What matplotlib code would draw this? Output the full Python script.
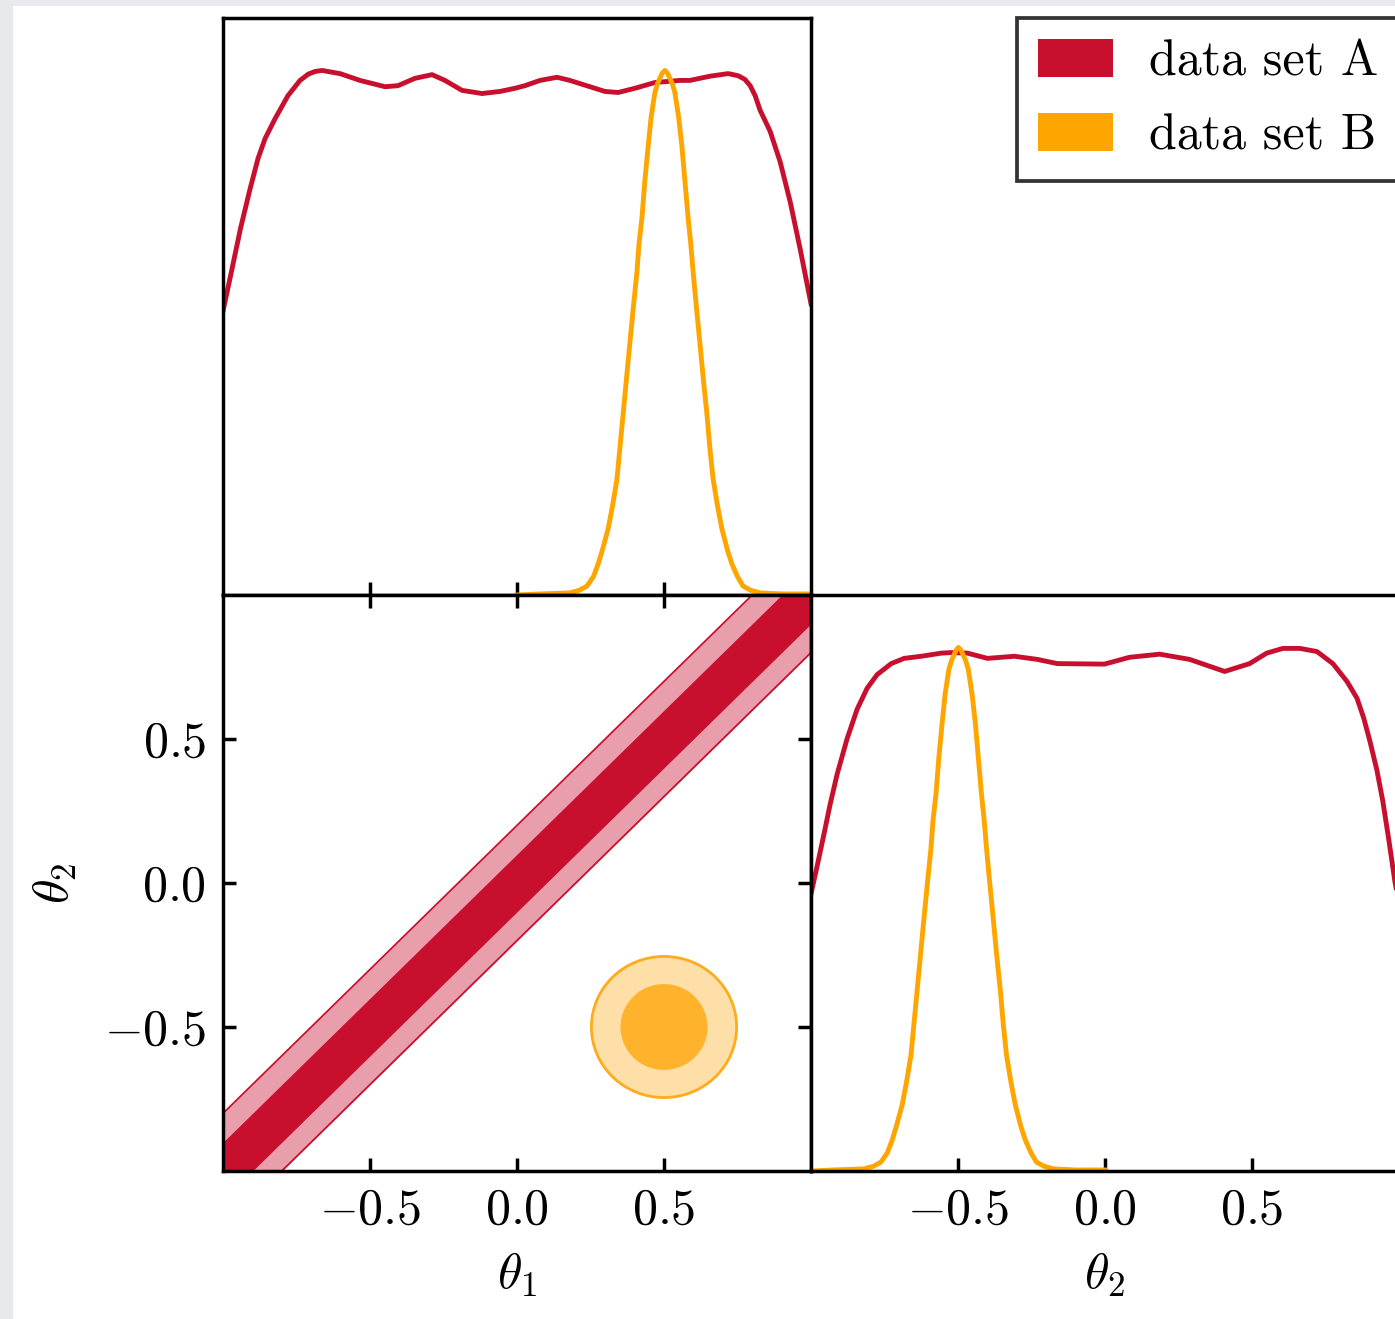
import matplotlib.pyplot as plt
from matplotlib.patches import Rectangle, Ellipse, Patch

plt.rcParams['font.family'] = 'serif'
plt.rcParams['font.serif'] = ['cmr10']
plt.rcParams['mathtext.fontset'] = 'cm'
plt.rcParams['axes.unicode_minus'] = False

red = '#c8102e'
red_light = '#e99fab'
orange = '#ffa500'
orange_mid = '#ffb22b'
orange_edge = '#ffab1c'
orange_light = '#ffdfa8'

# marginal of theta_1, data set A
t1_A_x = [-1.0, -0.97, -0.94, -0.908, -0.881, -0.857, -0.823, -0.779, -0.738, -0.71, -0.687,
          -0.663, -0.602, -0.534, -0.449, -0.405, -0.347, -0.289, -0.245, -0.187, -0.119,
          -0.058, -0.007, 0.027, 0.078, 0.136, 0.180, 0.248, 0.299, 0.344, 0.401, 0.469,
          0.554, 0.588, 0.656, 0.718, 0.752, 0.775, 0.793, 0.81, 0.827, 0.861, 0.895, 0.929,
          0.963, 1.0]
t1_A_y = [0.541, 0.62, 0.70, 0.774, 0.832, 0.870, 0.908, 0.952, 0.981, 0.993, 0.998,
          1.000, 0.994, 0.981, 0.969, 0.971, 0.985, 0.992, 0.981, 0.962, 0.956,
          0.960, 0.966, 0.971, 0.981, 0.987, 0.981, 0.969, 0.960, 0.958, 0.966, 0.977,
          0.981, 0.981, 0.989, 0.994, 0.990, 0.983, 0.971, 0.952, 0.924, 0.884, 0.826, 0.750,
          0.660, 0.555]

# marginal of theta_1, data set B
t1_B_x = [0.0, 0.078, 0.180, 0.212, 0.238, 0.26, 0.276, 0.29, 0.310, 0.325, 0.340, 0.35,
          0.361, 0.372, 0.384, 0.396, 0.408, 0.415, 0.425, 0.435, 0.446, 0.456, 0.469,
          0.478, 0.486, 0.494, 0.503, 0.512, 0.520, 0.528, 0.537, 0.55, 0.561, 0.571,
          0.582, 0.591, 0.599, 0.61, 0.622, 0.634, 0.646, 0.656, 0.667, 0.682, 0.697,
          0.716, 0.731, 0.75, 0.769, 0.795, 0.827, 0.9, 0.986, 1.0]
t1_B_y = [0.0, 0.002, 0.004, 0.009, 0.017, 0.035, 0.059, 0.085, 0.126, 0.17, 0.221, 0.28,
          0.345, 0.41, 0.481, 0.55, 0.616, 0.67, 0.719, 0.79, 0.855, 0.91, 0.958,
          0.975, 0.985, 0.995, 1.000, 0.995, 0.985, 0.975, 0.958, 0.91, 0.855, 0.79,
          0.719, 0.67, 0.616, 0.55, 0.481, 0.41, 0.345, 0.28, 0.221, 0.17, 0.126,
          0.085, 0.059, 0.035, 0.017, 0.009, 0.004, 0.002, 0.002, 0.002]

# marginal of theta_2, data set A
t2_A_x = [-1.0, -0.98, -0.956, -0.935, -0.911, -0.877, -0.843, -0.809, -0.775, -0.727,
          -0.683, -0.625, -0.557, -0.523, -0.468, -0.400, -0.308, -0.230, -0.162, -0.002,
          0.083, 0.186, 0.288, 0.407, 0.492, 0.550, 0.605, 0.663, 0.721, 0.775, 0.823,
          0.857, 0.88, 0.901, 0.925, 0.945, 0.966, 0.986, 1.0]
t2_A_y = [0.529, 0.58, 0.643, 0.70, 0.758, 0.826, 0.882, 0.922, 0.948, 0.969,
          0.979, 0.983, 0.989, 0.990, 0.989, 0.979, 0.983, 0.977, 0.969, 0.968,
          0.981, 0.987, 0.977, 0.954, 0.969, 0.989, 0.998, 0.998, 0.992, 0.969, 0.935,
          0.903, 0.865, 0.821, 0.765, 0.706, 0.63, 0.553, 0.51]

# marginal of theta_2, data set B
t2_B_x = [-1.0, -0.922, -0.820, -0.788, -0.762, -0.74, -0.724, -0.71, -0.690, -0.675,
          -0.660, -0.65, -0.639, -0.628, -0.616, -0.604, -0.592, -0.585, -0.575, -0.565,
          -0.554, -0.544, -0.531, -0.522, -0.514, -0.506, -0.499, -0.490, -0.482, -0.474,
          -0.465, -0.452, -0.441, -0.431, -0.420, -0.411, -0.403, -0.392, -0.380, -0.368,
          -0.356, -0.346, -0.335, -0.320, -0.305, -0.286, -0.271, -0.252, -0.233, -0.207,
          -0.175, -0.1, -0.014, 0.0]
t2_B_y = [0.0, 0.002, 0.004, 0.009, 0.017, 0.035, 0.059, 0.085, 0.126, 0.17, 0.221, 0.28,
          0.345, 0.41, 0.481, 0.55, 0.616, 0.67, 0.719, 0.79, 0.855, 0.91, 0.958,
          0.975, 0.985, 0.995, 1.000, 0.995, 0.985, 0.975, 0.958, 0.91, 0.855, 0.79,
          0.719, 0.67, 0.616, 0.55, 0.481, 0.41, 0.345, 0.28, 0.221, 0.17, 0.126,
          0.085, 0.059, 0.035, 0.017, 0.009, 0.004, 0.002, 0.002, 0.002]

# 2d: data set A is a diagonal band, edges given at theta_1 = -1.3 and 1.3
band_t1 = [-1.3, 1.3]
band_in_lo = [-1.4, 1.2]
band_in_hi = [-1.2, 1.4]
band_out_lo = [-1.5, 1.1]
band_out_hi = [-1.1, 1.5]

# 2d: data set B is a blob
blob_centre = (0.5, -0.5)
blob_in_w, blob_in_h = 0.296, 0.298
blob_out_w, blob_out_h = 0.494, 0.490

ticks = [-0.5, 0.0, 0.5]
tick_labels = [r'$-0.5$', r'$0.0$', r'$0.5$']
labels = ['data set A', 'data set B']

W, H = 1395, 1319
fig = plt.figure(figsize=(W / 100, H / 100), dpi=100, facecolor='#e8e9ed')
fig.add_artist(Rectangle((13 / W, 0), 1, 1 - 6 / H, transform=fig.transFigure,
                         facecolor='white', edgecolor='none', zorder=-10))

ax1 = fig.add_axes([223 / W, (H - 595) / H, 588 / W, 577 / H])
ax2 = fig.add_axes([223 / W, (H - 1171) / H, 588 / W, 576 / H])
ax3 = fig.add_axes([811 / W, (H - 1171) / H, 588 / W, 576 / H])

fs = 36
lw = 3.5
sw = 2.5
for ax in (ax1, ax2, ax3):
    for s in ax.spines.values():
        s.set_linewidth(sw)
    ax.set_xlim(-1, 1)

# top-left marginal
ax1.plot(t1_A_x, t1_A_y, color=red, lw=lw, solid_joinstyle='round')
ax1.plot(t1_B_x, t1_B_y, color=orange, lw=lw, solid_joinstyle='round')
ax1.set_ylim(0, 1.1)
ax1.set_xticks(ticks)
ax1.set_yticks([])
ax1.tick_params(axis='x', direction='in', length=9.5, width=sw, labelbottom=False)

# 2d panel
ax2.fill_between(band_t1, band_out_lo, band_out_hi, color=red_light, lw=0)
ax2.fill_between(band_t1, band_in_lo, band_in_hi, color=red, lw=0)
ax2.plot(band_t1, band_out_lo, color=red, lw=1.3)
ax2.plot(band_t1, band_out_hi, color=red, lw=1.3)
ax2.add_patch(Ellipse(blob_centre, blob_out_w, blob_out_h, facecolor=orange_light,
                      edgecolor=orange_edge, lw=2.0))
ax2.add_patch(Ellipse(blob_centre, blob_in_w, blob_in_h, facecolor=orange_mid,
                      edgecolor='none'))
ax2.set_ylim(-1, 1)
ax2.set_xticks(ticks)
ax2.set_xticklabels(tick_labels)
ax2.set_yticks(ticks)
ax2.set_yticklabels(tick_labels)
ax2.tick_params(direction='in', length=9.5, width=sw, top=True, right=True,
                labelsize=fs, pad=12)
ax2.set_xlabel(r'$\theta_1$', fontsize=fs, labelpad=12)
ax2.set_ylabel(r'$\theta_2$', fontsize=fs, labelpad=18)

# bottom-right marginal
ax3.plot(t2_A_x, t2_A_y, color=red, lw=lw, solid_joinstyle='round')
ax3.plot(t2_B_x, t2_B_y, color=orange, lw=lw, solid_joinstyle='round')
ax3.set_ylim(0, 1.1)
ax3.set_xticks(ticks)
ax3.set_xticklabels(tick_labels)
ax3.set_yticks([])
ax3.tick_params(axis='x', direction='in', length=9.5, width=sw, labelsize=fs, pad=12)
ax3.set_xlabel(r'$\theta_2$', fontsize=fs, labelpad=12)

handles = [Patch(facecolor=red, label=labels[0]), Patch(facecolor=orange, label=labels[1])]
leg = fig.legend(handles=handles, loc='upper right', bbox_to_anchor=(1399 / W, (H - 18) / H),
                 borderaxespad=0, fancybox=False, edgecolor='#333333', framealpha=1,
                 fontsize=fs, handlelength=1.5, handleheight=0.8, handletextpad=0.72,
                 labelspacing=0.55, borderpad=0.42)
leg.get_frame().set_linewidth(2.7)

fig.savefig('out.png', dpi=100, facecolor=fig.get_facecolor())
